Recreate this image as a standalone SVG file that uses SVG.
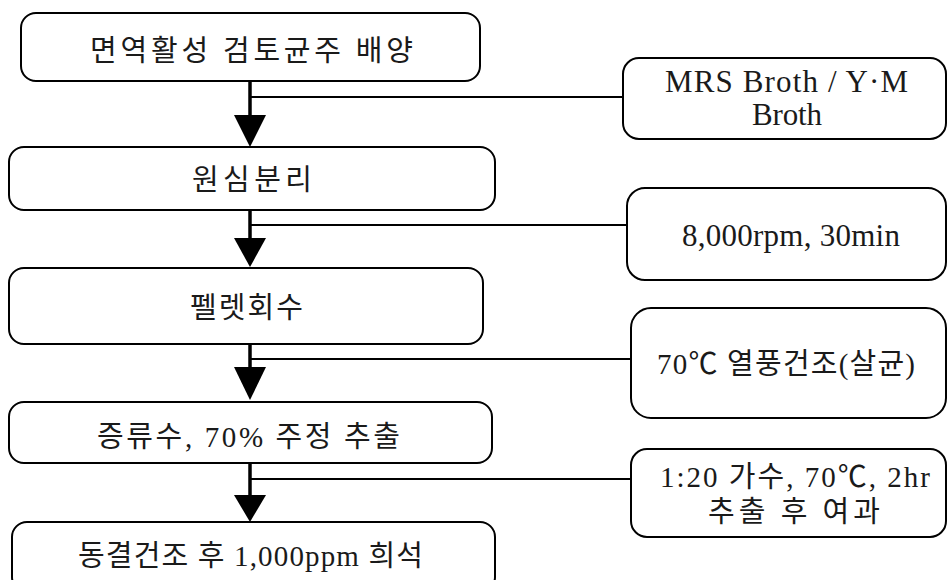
<svg xmlns="http://www.w3.org/2000/svg" width="948" height="580" viewBox="0 0 948 580">
<defs>
<style>
.box{fill:#fff;stroke:#000;stroke-width:2}
.t{font-family:"Liberation Serif","Noto Sans CJK KR",serif;font-size:29px;fill:#1a1a1a;text-anchor:middle}
.l{font-size:31px}
.v{stroke:#000;stroke-width:3.5;fill:none}
.h{stroke:#000;stroke-width:2;fill:none}
.ah{fill:#000;stroke:none}
</style>
</defs>
<rect width="948" height="580" fill="#fff"/>
<g id="connectors">
<line class="v" x1="250" y1="81" x2="250" y2="117"/>
<polygon class="ah" points="234,115 266,115 250,147"/>
<line class="h" x1="250" y1="97" x2="624" y2="97"/>
<line class="v" x1="250" y1="210" x2="250" y2="240"/>
<polygon class="ah" points="234,238 266,238 250,267"/>
<line class="h" x1="250" y1="225" x2="628" y2="225"/>
<line class="v" x1="250" y1="344" x2="250" y2="369"/>
<polygon class="ah" points="234,367 266,367 250,400"/>
<line class="h" x1="250" y1="359" x2="632" y2="359"/>
<line class="v" x1="250" y1="463" x2="250" y2="497"/>
<polygon class="ah" points="234,495 266,495 250,522"/>
<line class="h" x1="250" y1="479" x2="632" y2="479"/>
</g>
<g id="n1"><rect class="box" x="21" y="13" width="459" height="68" rx="15"/><text class="t" x="251.5" y="61" textLength="323" lengthAdjust="spacing">면역활성 검토균주 배양</text></g>
<g id="n2"><rect class="box" x="9" y="147" width="486" height="63" rx="15"/><text class="t" x="252" y="190" textLength="120" lengthAdjust="spacing">원심분리</text></g>
<g id="n3"><rect class="box" x="9" y="268" width="474" height="76" rx="15"/><text class="t" x="246.5" y="318" textLength="113" lengthAdjust="spacing">펠렛회수</text></g>
<g id="n4"><rect class="box" x="9" y="402" width="483" height="61" rx="15"/><text class="t" x="248.5" y="447" textLength="303" lengthAdjust="spacing">증류수, 70% 주정 추출</text></g>
<g id="n5"><rect class="box" x="12" y="522" width="483" height="70" rx="15"/><text class="t" x="250.5" y="566" textLength="345" lengthAdjust="spacing">동결건조 후 1,000ppm 희석</text></g>
<g id="r1"><rect class="box" x="623" y="58" width="323" height="81" rx="16"/><text class="t l" x="786.5" y="92" textLength="243" lengthAdjust="spacing">MRS Broth / Y·M</text><text class="t l" x="787" y="125" textLength="70" lengthAdjust="spacing">Broth</text></g>
<g id="r2"><rect class="box" x="627" y="188" width="319" height="92" rx="18"/><text class="t l" x="791" y="246" textLength="218" lengthAdjust="spacing">8,000rpm, 30min</text></g>
<g id="r3"><rect class="box" x="631" y="308" width="315" height="110" rx="20"/><text class="t" x="786" y="374" textLength="258" lengthAdjust="spacing">70℃ 열풍건조(살균)</text></g>
<g id="r4"><rect class="box" x="631" y="449" width="315" height="88" rx="16"/><text class="t" x="795" y="487" textLength="270" lengthAdjust="spacing">1:20 가수, 70℃, 2hr</text><text class="t" x="794" y="522" textLength="172" lengthAdjust="spacing">추출 후 여과</text></g>
</svg>
